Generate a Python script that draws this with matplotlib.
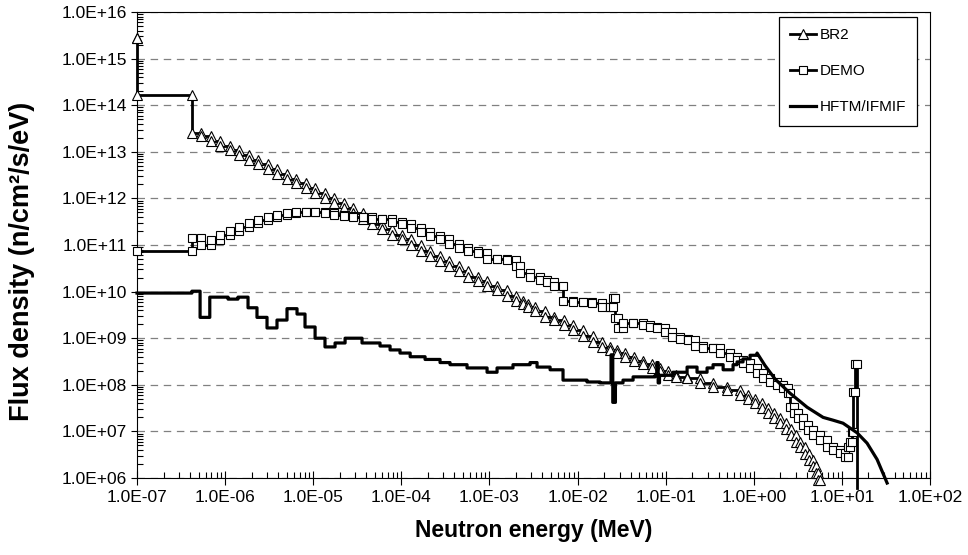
import numpy as np
import matplotlib.pyplot as plt
from matplotlib.ticker import FuncFormatter, LogLocator, NullFormatter

plt.rcParams['font.family'] = ['Liberation Sans', 'DejaVu Sans']

# group-wise spectra: bin edges in MeV (len n+1) and flux per bin (len n)
br2_edges = [1.0e-7, 1.0e-7, 4.2e-7, 5.3e-7, 6.9e-7, 8.7e-7, 1.14e-6, 1.44e-6, 1.87e-6,
             2.36e-6, 3.07e-6, 3.88e-6, 5.04e-6, 6.38e-6, 8.28e-6, 1.05e-5, 1.36e-5,
             1.72e-5, 2.24e-5, 2.83e-5, 3.67e-5, 4.65e-5, 6.04e-5, 7.83e-5, 1.02e-4,
             1.29e-4, 1.67e-4, 2.12e-4, 2.75e-4, 3.48e-4, 4.52e-4, 5.71e-4, 7.43e-4,
             9.40e-4, 1.22e-3, 1.58e-3, 2.00e-3, 2.40e-3, 2.74e-3, 3.30e-3, 4.28e-3,
             5.41e-3, 7.03e-3, 8.89e-3, 1.15e-2, 1.50e-2, 1.90e-2, 2.34e-2, 2.81e-2,
             3.46e-2, 4.38e-2, 5.53e-2, 7.01e-2, 8.63e-2, 0.106, 0.131, 0.175, 0.245,
             0.345, 0.498, 0.700, 0.861, 1.03, 1.24, 1.45, 1.70, 1.99, 2.33, 2.65, 3.02,
             3.36, 3.82, 4.25, 4.71, 5.09, 5.37, 5.65]
br2_flux = [2.7e15, 1.66e14, 2.57e13, 2.14e13, 1.70e13, 1.35e13, 1.07e13, 8.5e12, 6.8e12,
            5.4e12, 4.3e12, 3.4e12, 2.6e12, 2.1e12, 1.66e12, 1.32e12, 1.02e12,
            7.9e11, 6.2e11, 4.9e11, 3.7e11, 2.8e11, 2.2e11, 1.66e11, 1.32e11,
            1.0e11, 7.4e10, 5.8e10, 4.5e10, 3.6e10, 2.7e10, 2.1e10, 1.66e10,
            1.35e10, 1.07e10, 8.1e9, 6.3e9, 5.4e9, 4.6e9, 3.8e9, 2.9e9,
            2.45e9, 1.95e9, 1.51e9, 1.12e9, 8.3e8, 6.6e8, 5.6e8, 4.8e8,
            3.9e8, 3.2e8, 2.75e8, 2.3e8, 1.95e8, 1.66e8, 1.48e8, 1.38e8, 1.12e8,
            9.1e7, 7.8e7, 6.0e7, 5.0e7, 4.0e7, 3.2e7, 2.5e7, 1.95e7, 1.51e7, 1.12e7,
            8.3e6, 6.0e6, 4.7e6, 3.3e6, 2.45e6, 1.78e6, 1.26e6, 9.1e5]

demo_edges = [1.0e-7, 4.2e-7, 5.3e-7, 6.9e-7, 8.7e-7, 1.14e-6, 1.44e-6, 1.87e-6, 2.36e-6,
              3.07e-6, 3.88e-6, 5.04e-6, 6.38e-6, 8.28e-6, 1.05e-5, 1.36e-5, 1.72e-5,
              2.24e-5, 2.83e-5, 3.67e-5, 4.65e-5, 6.04e-5, 7.83e-5, 1.02e-4, 1.29e-4,
              1.67e-4, 2.12e-4, 2.75e-4, 3.48e-4, 4.52e-4, 5.71e-4, 7.43e-4, 9.40e-4,
              1.22e-3, 1.58e-3, 2.00e-3, 2.22e-3, 2.89e-3, 3.75e-3, 4.51e-3, 5.41e-3,
              6.84e-3, 8.89e-3, 1.15e-2, 1.46e-2, 1.90e-2, 2.34e-2, 2.53e-2, 2.67e-2,
              2.88e-2, 3.28e-2, 4.27e-2, 5.53e-2, 6.65e-2, 7.98e-2, 9.84e-2, 0.118,
              0.146, 0.179, 0.216, 0.266, 0.345, 0.415, 0.538, 0.646, 0.755, 0.908,
              1.09, 1.28, 1.53, 1.84, 2.15, 2.45, 2.58, 2.86, 3.18, 3.63, 4.13, 4.71,
              5.65, 6.79, 7.94, 9.55, 10.9, 11.7, 12.4, 13.1, 13.4, 14.1, 14.9]
demo_flux = [7.4e10, 1.41e11, 1.0e11, 1.29e11, 1.62e11, 2.0e11, 2.45e11, 2.95e11,
             3.5e11, 4.0e11, 4.5e11, 4.9e11, 5.1e11, 5.1e11, 5.1e11, 4.9e11,
             4.3e11, 4.2e11, 4.0e11, 4.0e11, 3.7e11, 3.6e11, 3.1e11, 2.8e11,
             2.3e11, 1.9e11, 1.58e11, 1.32e11, 1.05e11, 8.7e10, 7.6e10, 6.8e10,
             5.1e10, 5.0e10, 4.8e10, 3.5e10, 2.5e10, 2.1e10, 1.74e10, 1.62e10,
             1.32e10, 6.3e9, 6.0e9, 5.9e9, 5.6e9, 4.7e9, 4.6e9, 7.2e9,
             2.7e9, 1.66e9, 2.1e9, 2.1e9, 1.9e9, 1.74e9, 1.66e9, 1.35e9,
             1.07e9, 9.5e8, 9.1e8, 6.9e8, 6.3e8, 6.2e8, 4.8e8, 4.0e8, 3.4e8, 3.0e8,
             2.3e8, 1.78e8, 1.41e8, 1.15e8, 1.0e8, 8.5e7, 6.6e7, 3.3e7, 2.45e7, 1.95e7,
             1.38e7, 1.07e7, 8.3e6, 6.6e6, 4.7e6, 4.0e6, 3.5e6, 2.8e6, 4.7e6, 5.9e6,
             9.8e6, 7.1e7, 2.8e8]
demo_cutoff = 6.2e5  # flux drops to zero above the 14 MeV line

hftm_edges = [1.0e-7, 4.2e-7, 5.2e-7, 6.7e-7, 1.08e-6, 1.40e-6, 1.82e-6, 2.30e-6, 2.99e-6,
              3.88e-6, 5.04e-6, 6.55e-6, 8.07e-6, 1.05e-5, 1.36e-5, 1.77e-5, 2.30e-5,
              3.58e-5, 5.73e-5, 7.45e-5, 9.66e-5, 1.26e-4, 1.86e-4, 2.75e-4, 3.57e-4,
              5.57e-4, 9.40e-4, 1.22e-3, 1.85e-3, 2.89e-3, 3.47e-3, 4.88e-3, 6.84e-3,
              1.28e-2, 1.80e-2, 2.40e-2, 2.51e-2, 2.69e-2, 3.28e-2, 4.27e-2, 7.59e-2,
              7.94e-2, 8.22e-2, 8.51e-2, 0.121, 0.175, 0.227, 0.295, 0.345, 0.449,
              0.582, 0.646, 0.755, 0.908, 1.09]
hftm_flux = [9.3e9, 1.02e10, 2.8e9, 7.6e9, 6.9e9, 7.6e9, 4.5e9, 2.8e9,
             1.66e9, 2.45e9, 4.3e9, 3.3e9, 1.74e9, 1.0e9, 6.5e8, 7.9e8,
             1.0e9, 7.9e8, 6.8e8, 5.6e8, 4.8e8, 4.0e8, 3.5e8, 3.0e8,
             2.7e8, 2.3e8, 1.86e8, 2.3e8, 2.7e8, 3.0e8, 2.4e8, 2.1e8,
             1.26e8, 1.15e8, 1.1e8, 4.4e8, 4.2e7, 1.1e8, 1.26e8, 1.48e8,
             1.6e8, 3.0e8, 1.1e8, 1.6e8, 1.86e8, 2.4e8, 1.86e8, 2.3e8, 2.7e8,
             2.1e8, 2.7e8, 3.1e8, 3.6e8, 4.3e8]
# fine-group part of the HFTM spectrum, drawn as a plain line
hftm_tail_e = [1.09, 1.34, 1.75, 2.58, 4.03, 6.12, 7.94, 10.3, 14.9, 19.3, 25.1, 32.6]
hftm_tail_flux = [4.8e8, 2.6e8, 1.32e8, 6.6e7, 3.3e7, 2.0e7, 1.74e7, 1.5e7, 9.3e6,
                  5.6e6, 2.5e6, 7.8e5]


def step_path(edges, vals):
    e = np.asarray(edges, float)
    v = np.asarray(vals, float)
    x = np.column_stack([e[:-1], e[1:]]).ravel()
    y = np.repeat(v, 2)
    return x, y


br2_x, br2_y = step_path(br2_edges, br2_flux)
demo_x, demo_y = step_path(demo_edges, demo_flux)
demo_x = np.append(demo_x, demo_edges[-1])
demo_y = np.append(demo_y, demo_cutoff)
hftm_x, hftm_y = step_path(hftm_edges, hftm_flux)
hftm_x = np.concatenate([hftm_x, hftm_tail_e])
hftm_y = np.concatenate([hftm_y, hftm_tail_flux])

fig = plt.figure(figsize=(9.68, 5.55), dpi=100)
ax = fig.add_axes([137 / 968, 77 / 555, 793 / 968, 466 / 555])

ax.plot(br2_x, br2_y, color='black', lw=2.0, marker='^', ms=7, mfc='white',
        mec='black', mew=0.8, label='BR2', clip_on=False, zorder=3)
ax.plot(demo_x, demo_y, color='black', lw=2.0, marker='s', ms=6.3, mfc='white',
        mec='black', mew=0.8, markevery=list(range(len(demo_x) - 1)),
        label='DEMO', clip_on=False, zorder=3)
ax.plot(hftm_x, hftm_y, color='black', lw=2.3, label='HFTM/IFMIF',
        clip_on=False, zorder=3)

ax.set_xscale('log')
ax.set_yscale('log')
ax.set_xlim(1e-7, 1e2)
ax.set_ylim(1e6, 1e16)

fmt = FuncFormatter(lambda v, p: f'{v:.1E}')
for axis in (ax.xaxis, ax.yaxis):
    axis.set_major_locator(LogLocator(base=10, numticks=20))
    axis.set_minor_locator(LogLocator(base=10, subs=np.arange(2, 10), numticks=200))
    axis.set_major_formatter(fmt)
    axis.set_minor_formatter(NullFormatter())

ax.tick_params(axis='x', which='major', direction='inout', length=10, width=0.8,
               labelsize=12.5, pad=4)
ax.tick_params(axis='x', which='minor', direction='in', length=4, width=0.8)
ax.tick_params(axis='y', which='major', direction='out', length=4, width=0.8,
               labelsize=12.5, pad=3)
ax.tick_params(axis='y', which='minor', direction='in', length=4, width=0.8)

ax.yaxis.grid(True, which='major', color='#808080', lw=0.9, linestyle=(0, (6, 4.5)))
ax.set_axisbelow(True)
for s in ax.spines.values():
    s.set_linewidth(0.8)
    s.set_color('black')

ax.set_xlabel('Neutron energy (MeV)', fontsize=16.5, fontweight='bold', labelpad=10)
ax.set_ylabel('Flux density (n/cm²/s/eV)', fontsize=19.5, fontweight='bold')
ax.yaxis.set_label_coords(-0.128, 0.465)

leg = ax.legend(loc='upper right', bbox_to_anchor=(0.984, 0.99), borderaxespad=0,
                fontsize=11, fancybox=False, framealpha=1, edgecolor='black',
                handlelength=1.7, handletextpad=0.2, labelspacing=1.45,
                borderpad=0.75)
leg.get_frame().set_linewidth(0.9)

fig.savefig('out.png', dpi=100)
